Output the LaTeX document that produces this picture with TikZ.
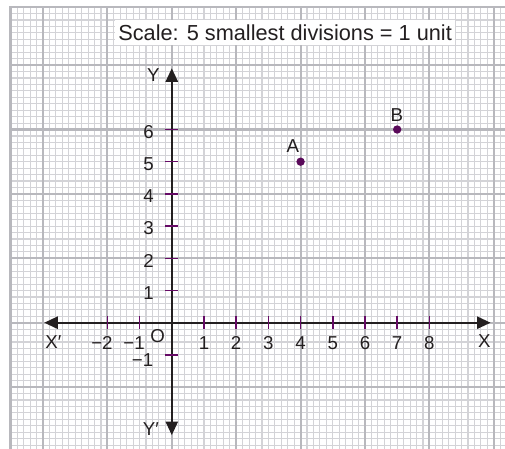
\documentclass[tikz,border=0pt]{standalone}
\usepackage{fontspec}
\setmainfont{Liberation Sans}
\usetikzlibrary{arrows.meta}
\definecolor{gridlight}{HTML}{D3D3D7}
\definecolor{gridheavy}{HTML}{B8B8BD}
\definecolor{axisc}{HTML}{231F20}
\definecolor{tickc}{HTML}{660A66}
\definecolor{ptc}{HTML}{5A0A5A}
\tikzset{
  smallgrid/.style={draw=gridlight, line width=1.0pt},
  biggrid/.style={draw=gridheavy, line width=1.9pt},
  axisline/.style={draw=axisc, line width=1.6pt, -{Triangle[length=0.42cm,width=0.38cm]}},
  tickmark/.style={draw=tickc, line width=1.3pt},
  lbl/.style={font=\fontsize{16.5}{19}\selectfont, text=axisc, inner sep=0pt},
  dotpt/.style={circle, fill=ptc, inner sep=0pt, minimum size=0.26cm},
}
\begin{document}
\begin{tikzpicture}
\useasboundingbox (-5.335,-3.922) rectangle (10.348,10.022);
\fill[white] (-5.335,-3.922) rectangle (10.348,10.022);
% graph paper
\draw[smallgrid, step=0.2] (-5,-3.922) grid (10.348,9.8);
\draw[biggrid, step=2] (-5,-3.922) grid (10.348,9.8);
\draw[biggrid, line width=2.4pt] (-5,-3.922) -- (-5,9.8) -- (10.348,9.8);
% scale label
\node[fill=white, inner xsep=3pt, inner ysep=4pt, font=\fontsize{19.2}{22}\selectfont, text=axisc] (scale) at (3.52,9.0) {Scale: 5 smallest divisions = 1 unit};
% axes
\coordinate (O) at (0,0);
\coordinate (xl) at (-3.96,0);
\coordinate (xr) at (9.9,0);
\coordinate (yt) at (0,7.9);
\coordinate (yb) at (0,-3.49);
\draw[axisline] (O) -- (xr);
\draw[axisline] (O) -- (xl);
\draw[axisline] (O) -- (yt);
\draw[axisline] (O) -- (yb);
% ticks on x axis
\foreach \x in {-2,-1,1,2,3,4,5,6,7,8} {
  \draw[tickmark] (\x,-0.2) -- (\x,0.2);
}
\foreach \x in {1,...,8} {
  \node[lbl] (xlab\x) at (\x,-0.62) {\x};
}
\node[lbl] (xlabm2) at (-2,-0.62) {\llap{−}2};
\node[lbl] (xlabm1) at (-1,-0.62) {\llap{−}1};
% ticks on y axis
\foreach \y in {-1,1,2,3,4,5,6} {
  \draw[tickmark] (-0.2,\y) -- (0.2,\y);
}
\foreach \y in {1,...,6} {
  \node[lbl, anchor=east] (ylab\y) at (-0.55,\y-0.07) {\y};
}
\node[lbl, anchor=east] (ylabm1) at (-0.57,-1.16) {−1};
% axis names
\node[lbl] (olab) at (-0.44,-0.43) {O};
\node[lbl] (xname) at (9.71,-0.57) {X};
\node[lbl] (xpname) at (-3.68,-0.6) {X′};
\node[lbl] (yname) at (-0.57,7.68) {Y};
\node[lbl] (ypname) at (-0.65,-3.31) {Y′};
% points
\node[dotpt] (A) at (4,5) {};
\node[dotpt] (B) at (7,6) {};
\node[lbl] (Alab) at (3.76,5.5) {A};
\node[lbl] (Blab) at (6.99,6.46) {B};
\end{tikzpicture}
\end{document}
